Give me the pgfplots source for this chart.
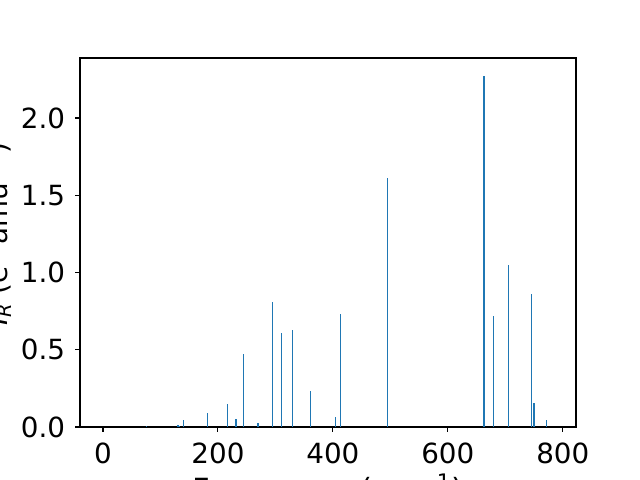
\documentclass[border=0pt]{standalone}
\usepackage{pgfplots}
\pgfplotsset{compat=1.18}
\usepackage{fontspec}
\setmainfont{DejaVu Sans}
\definecolor{mplblue}{HTML}{1F77B4}
\begin{document}
\begin{tikzpicture}
\useasboundingbox (0,0) rectangle (460.8pt,345.6pt);
\begin{axis}[
  at={(57.6pt,38.16pt)}, anchor=south west,
  scale only axis, width=357.12pt, height=265.68pt,
  xmin=-40, xmax=823, ymin=0, ymax=2.388,
  xtick={0,200,400,600,800}, ytick={0,0.5,1.0,1.5,2.0},
  yticklabel style={/pgf/number format/fixed, /pgf/number format/fixed zerofill, /pgf/number format/precision=1},
  tick align=outside, major tick length=3.5pt,
  xtick pos=left, ytick pos=left,
  every tick/.style={black, line width=0.8pt},
  axis line style={line width=0.8pt},
  tick label style={font=\fontsize{20}{24}\selectfont, inner sep=0pt},
  /pgf/number format/assume math mode=true,
  xticklabel style={yshift=-7.6pt},
  yticklabel style={xshift=-7pt},
  xlabel={Frequency (cm\textsuperscript{−1})},
  xlabel style={font=\fontsize{22}{26}\selectfont, inner sep=0pt, at={(axis description cs:0.5,-0.1987)}, anchor=base},
  ylabel={\textit{I}\textsubscript{\textit{R}} (e\textsuperscript{2} amu\textsuperscript{−1})},
  ylabel style={font=\fontsize{20}{24}\selectfont, inner sep=0pt, at={(axis description cs:-0.147,0.523)}, anchor=base},
]
\addplot[ycomb, no marks, mplblue, line width=0.8pt] coordinates {
(76,0.007) (130.5,0.013) (133,0.006) (139.7,0.047) (181.4,0.09)
(216.2,0.149) (231,0.05) (233,0.052) (244,0.472) (268.5,0.024) (270.5,0.026)
(294.5,0.809) (310,0.608) (329.2,0.628) (360.5,0.233) (404,0.065)
(412.7,0.731) (494.5,1.612) (663,2.274) (678.8,0.718) (705,1.049)
(745,0.861) (750,0.155) (771,0.045)
};
\end{axis}
\end{tikzpicture}
\end{document}
